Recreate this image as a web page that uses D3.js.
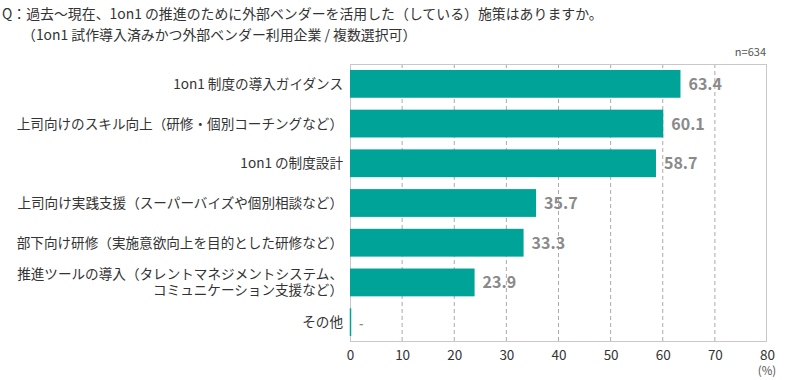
<!DOCTYPE html>
<html><head><meta charset="utf-8">
<script src="https://cdn.jsdelivr.net/npm/d3@7"></script>
<style>body{margin:0;background:#fff;}svg{display:block;font-family:"Noto Sans CJK JP","Noto Sans",sans-serif;}</style>
</head><body><svg id="c" width="790" height="380"></svg>
<script>
const titleLines = ["Q：過去～現在、1on1 の推進のために外部ベンダーを活用した（している）施策はありますか。",
  "（1on1 試作導入済みかつ外部ベンダー利用企業 / 複数選択可）"];
const categories = [
  ["1on1 制度の導入ガイダンス"],
  ["上司向けのスキル向上（研修・個別コーチングなど）"],
  ["1on1 の制度設計"],
  ["上司向け実践支援（スーパーバイズや個別相談など）"],
  ["部下向け研修（実施意欲向上を目的とした研修など）"],
  ["推進ツールの導入（タレントマネジメントシステム、", "コミュニケーション支援など）"],
  ["その他"]
];
const values = [63.4, 60.1, 58.7, 35.7, 33.3, 23.9, 0];
const valueLabels = ["63.4", "60.1", "58.7", "35.7", "33.3", "23.9", "-"];
const xTicks = [0, 10, 20, 30, 40, 50, 60, 70, 80];
const sampleNote = "n=634";
const unitNote = "(%)";

(function () {
const svg = d3.select("#c");
const pL = 350, pR = 767, pT = 64, pB = 342;
const teal = "#00A398";

const x = d3.scaleLinear().domain([0, 80]).range([pL, pR]);
const y = d3.scaleBand().domain(d3.range(categories.length)).range([pT, pB]).paddingInner(0.3).paddingOuter(0.15);

// title
svg.append("text").attr("x", 2).attr("y", 19).attr("font-size", 13.9).attr("fill", "#333").text(titleLines[0]);
svg.append("text").attr("x", 22).attr("y", 40).attr("font-size", 13.9).attr("fill", "#333").text(titleLines[1]);
svg.append("text").attr("x", pR - 1).attr("y", 56).attr("text-anchor", "end").attr("font-size", 11).attr("fill", "#555").text(sampleNote);

// gridlines
svg.append("g").selectAll("line").data(xTicks.filter(t => t > 0 && t < 80)).join("line")
  .attr("x1", d => x(d)).attr("x2", d => x(d)).attr("y1", pT).attr("y2", pB)
  .attr("stroke", "#aaa").attr("stroke-dasharray", "4,3").attr("stroke-width", 1);

// frame
svg.append("rect").attr("x", pL + 0.5).attr("y", pT + 0.5).attr("width", pR - pL - 1).attr("height", pB - pT - 1)
  .attr("fill", "none").attr("stroke", "#c8c8c8");

// bars
svg.append("g").selectAll("rect").data(values).join("rect")
  .attr("x", x(0)).attr("y", (d, i) => y(i)).attr("width", d => x(d) - x(0)).attr("height", y.bandwidth())
  .attr("fill", teal);
// zero-length bar marker
svg.append("g").selectAll("line").data(values.map((v, i) => [v, i]).filter(d => d[0] === 0)).join("line")
  .attr("x1", x(0) + 0.5).attr("x2", x(0) + 0.5).attr("y1", d => y(d[1])).attr("y2", d => y(d[1]) + y.bandwidth())
  .attr("stroke", teal).attr("stroke-width", 1.5);

// value labels
svg.append("g").selectAll("text").data(values).join("text")
  .attr("x", (d, i) => x(d) + (d === 0 ? 9 : 8)).attr("y", (d, i) => y(i) + y.bandwidth() / 2 + 6)
  .attr("font-size", d => d === 0 ? 12 : 16).attr("font-weight", "bold").attr("fill", "#8a8a8a")
  .text((d, i) => valueLabels[i]);

// category labels
const cl = svg.append("g").selectAll("text").data(categories).join("text")
  .attr("text-anchor", "end").attr("font-size", 13.6).attr("fill", "#333")
  .attr("transform", (d, i) => `translate(${pL - 7},${y(i) + y.bandwidth() / 2 + 5 - (d.length - 1) * 8})`);
cl.selectAll("tspan").data(d => d).join("tspan").attr("x", 0).attr("dy", (d, j) => j === 0 ? 0 : 16).text(d => d);

// x axis
const ax = svg.append("g").attr("transform", `translate(0,${pB})`)
  .call(d3.axisBottom(x).tickValues(xTicks).tickSize(0).tickPadding(8));
ax.select(".domain").remove();
ax.selectAll("text").attr("font-size", 13.5).attr("fill", "#333").attr("font-family", "'Noto Sans CJK JP','Noto Sans',sans-serif");
svg.append("text").attr("x", x(80)).attr("y", 375).attr("text-anchor", "middle").attr("font-size", 11.5).attr("fill", "#555").text(unitNote);
})();
</script></body></html>
